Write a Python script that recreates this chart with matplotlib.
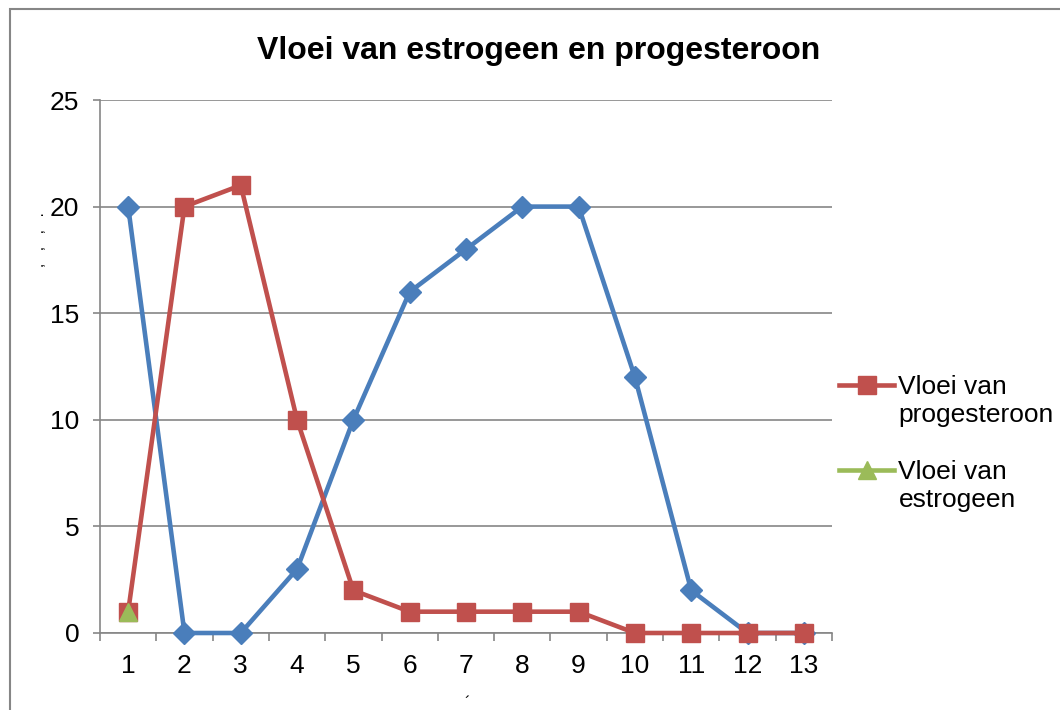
import numpy as np
import matplotlib.pyplot as plt
from matplotlib.patches import Rectangle
from matplotlib.legend_handler import HandlerLine2D

plt.rcParams['font.family'] = ['Liberation Sans', 'DejaVu Sans']

categories = list(range(1, 14))
estrogeen_blauw = [20, 0, 0, 3, 10, 16, 18, 20, 20, 12, 2, 0, 0]
progesteroon = [1, 20, 21, 10, 2, 1, 1, 1, 1, 0, 0, 0, 0]
estrogeen = [1]
y_ticks = [0, 5, 10, 15, 20, 25]

blue = '#4A7EBB'
red = '#C0504D'
green = '#9BBB59'
grey = '#868686'


class TopLineHandler(HandlerLine2D):
    # put the legend key next to the first line of a two-line label
    def create_artists(self, legend, orig_handle, xdescent, ydescent,
                       width, height, fontsize, trans):
        arts = super().create_artists(legend, orig_handle, xdescent, ydescent,
                                      width, height, fontsize, trans)
        for a in arts:
            a.set_ydata(np.asarray(a.get_ydata(), float) + 0.62 * fontsize)
        return arts


fig = plt.figure(figsize=(10.6, 7.1), dpi=100)
ax = fig.add_axes([100 / 1060, 1 - 633 / 710, 732 / 1060, 533 / 710])

# outer chart border (only top/left visible in the original)
fig.patches.append(Rectangle((10 / 1060, -0.1), 1.2, 1 - 9 / 710 + 0.1,
                             transform=fig.transFigure, fill=False,
                             edgecolor=grey, linewidth=1.5))

ax.plot(categories, estrogeen_blauw, color=blue, lw=3.3, marker='D', ms=11,
        zorder=3, clip_on=False)
l_prog, = ax.plot(categories, progesteroon, color=red, lw=3.3, marker='s',
                  ms=13, zorder=4, clip_on=False, label='Vloei van\nprogesteroon')
l_est, = ax.plot(categories[:len(estrogeen)], estrogeen, color=green, lw=3.3,
                 marker='^', ms=13, zorder=5, clip_on=False,
                 label='Vloei van\nestrogeen')

ax.set_xlim(0.5, 13.5)
ax.set_ylim(0, 25)
ax.set_xticks(categories)
ax.set_xticks([c + 0.5 for c in [0] + categories], minor=True)
ax.tick_params(axis='x', which='major', length=0, labelsize=19, pad=15)
ax.tick_params(axis='x', which='minor', length=6, color=grey, width=1.2)
ax.set_yticks(y_ticks)
ax.tick_params(axis='y', length=5, color=grey, width=1.2, labelsize=19, pad=10)
ax.yaxis.grid(True, color=grey, lw=1.2)
ax.set_axisbelow(True)
for s in ['top', 'right']:
    ax.spines[s].set_visible(False)
for s in ['left', 'bottom']:
    ax.spines[s].set_color(grey)
    ax.spines[s].set_linewidth(1.2)

fig.text(539 / 1060, 1 - 51 / 710, 'Vloei van estrogeen en progesteroon',
         fontsize=23, fontweight='bold', ha='center', va='center')

ax.legend(handles=[l_prog, l_est], loc='center left',
          bbox_to_anchor=(1.006, 0.355), frameon=False,
          fontsize=19, handlelength=2.1, handletextpad=0.15, labelspacing=1.25,
          borderaxespad=0.1, borderpad=0,
          handler_map={l_prog: TopLineHandler(), l_est: TopLineHandler()})

# faint leftover axis-title glyphs
fig.text(40 / 1060, 1 - 240 / 710, ',   ,   ,   .', rotation=90, fontsize=11,
         ha='center', va='center')
fig.text(467 / 1060, 1 - 704 / 710, '\u00b4', fontsize=12, ha='center',
         va='center')

fig.savefig('out.png', dpi=100)
